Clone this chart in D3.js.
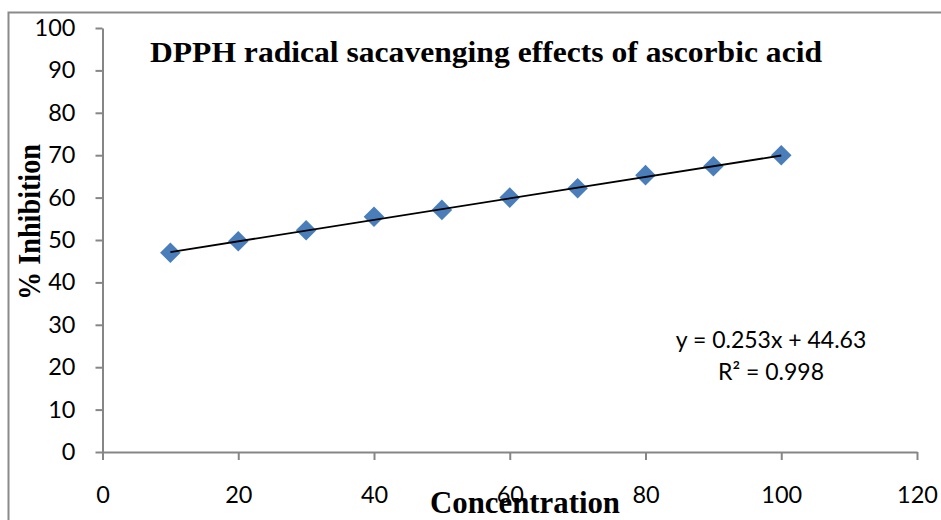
<!DOCTYPE html>
<html>
<head>
<meta charset="utf-8">
<script src="https://cdn.jsdelivr.net/npm/d3@7"></script>
<style>
  body { margin: 0; background: #fff; }
  svg { display: block; }
  .tick text { font-family: Lato, "Open Sans", sans-serif; font-size: 23.5px; fill: #000; }
  .serif { font-family: "Liberation Serif", "Times New Roman", serif; font-weight: bold; }
</style>
</head>
<body>
<svg id="chart" width="941" height="520"></svg>
<script>
/*** DATA ***/
var concentration = [10, 20, 30, 40, 50, 60, 70, 80, 90, 100];
var inhibition = [47.0, 49.7, 52.3, 55.5, 57.1, 60.0, 62.2, 65.3, 67.4, 70.0];
var xTicks = [0, 20, 40, 60, 80, 100, 120];
var yTicks = [0, 10, 20, 30, 40, 50, 60, 70, 80, 90, 100];
var trendSlope = 0.253, trendIntercept = 44.63;
var equationLines = ['y = 0.253x + 44.63', 'R² = 0.998'];

var svg = d3.select('#chart');
var axisColor = '#868686';
var markerColor = '#4a7ebb';

//outer chart border
svg.append('rect')
  .attr('x', 8.5).attr('y', 12.5)
  .attr('width', 940).attr('height', 520)
  .attr('fill', 'none')
  .attr('stroke', '#8a8a8a')
  .attr('stroke-width', 2);

//scales
var x = d3.scaleLinear().domain([0, 120]).range([102.5, 917]);
var y = d3.scaleLinear().domain([0, 100]).range([452, 28]);

//y axis
var yAxis = svg.append('g')
  .attr('transform', 'translate(' + x(0) + ',0)')
  .call(d3.axisLeft(y).tickValues(yTicks).tickSize(7).tickPadding(20).tickSizeOuter(0));

//x axis
var xAxis = svg.append('g')
  .attr('transform', 'translate(0,' + y(0) + ')')
  .call(d3.axisBottom(x).tickValues(xTicks).tickSize(8).tickPadding(26).tickSizeOuter(0));

[xAxis, yAxis].forEach(function(g) {
  g.selectAll('.domain').attr('stroke', axisColor).attr('stroke-width', 2);
  g.selectAll('.tick line').attr('stroke', axisColor).attr('stroke-width', 2);
});

//markers
var diamond = d3.symbol().type(d3.symbolDiamond2).size(270);
svg.selectAll('.point')
  .data(concentration)
  .enter().append('path')
  .attr('class', 'point')
  .attr('d', diamond)
  .attr('transform', function(d, i) { return 'translate(' + x(d) + ',' + y(inhibition[i]) + ')'; })
  .attr('fill', markerColor);

//linear trend line, drawn over the markers
var trendData = [concentration[0], concentration[concentration.length - 1]];
svg.append('line')
  .attr('x1', x(trendData[0])).attr('y1', y(trendSlope * trendData[0] + trendIntercept))
  .attr('x2', x(trendData[1])).attr('y2', y(trendSlope * trendData[1] + trendIntercept))
  .attr('stroke', '#000')
  .attr('stroke-width', 1.8);

//equation
svg.selectAll('.eq')
  .data(equationLines)
  .enter().append('text')
  .attr('class', 'eq')
  .attr('x', 771)
  .attr('y', function(d, i) { return 348 + i * 32; })
  .attr('text-anchor', 'middle')
  .style('font-family', 'Lato, "Open Sans", sans-serif')
  .style('font-size', '23px')
  .text(function(d) { return d; });

//title
svg.append('text')
  .attr('class', 'serif')
  .attr('x', 150).attr('y', 62)
  .attr('textLength', 672)
  .attr('lengthAdjust', 'spacingAndGlyphs')
  .style('font-size', '29px')
  .text('DPPH radical sacavenging effects of ascorbic acid');

//axis titles
svg.append('text')
  .attr('class', 'serif')
  .attr('x', 430).attr('y', 513)
  .attr('textLength', 190)
  .attr('lengthAdjust', 'spacingAndGlyphs')
  .style('font-size', '31px')
  .text('Concentration');

svg.append('text')
  .attr('class', 'serif')
  .attr('transform', 'translate(40,300) rotate(-90)')
  .attr('textLength', 156)
  .attr('lengthAdjust', 'spacingAndGlyphs')
  .style('font-size', '31px')
  .text('% Inhibition');
</script>
</body>
</html>
